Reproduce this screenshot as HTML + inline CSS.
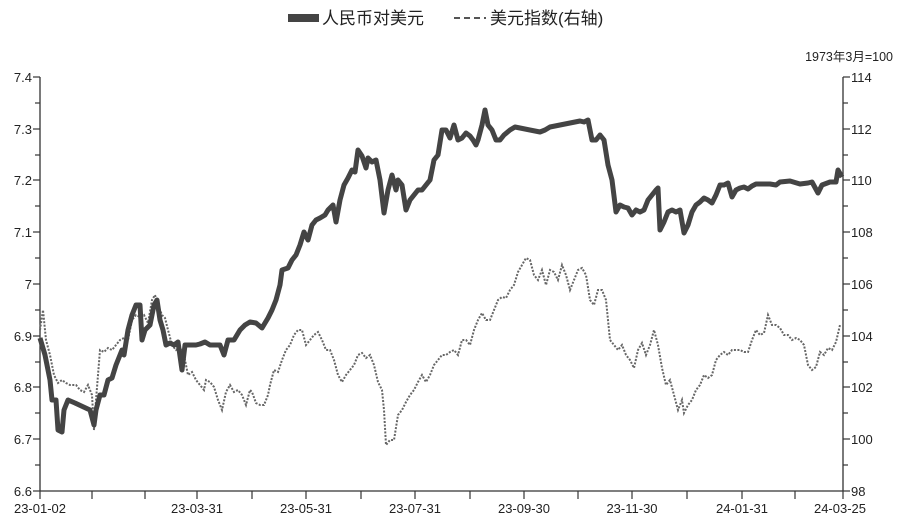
<!DOCTYPE html>
<html><head><meta charset="utf-8"><style>
body{margin:0;background:#fff;}
svg text{font-family:"Liberation Sans","Noto Sans CJK SC",sans-serif;fill:#222;}
</style></head><body>
<svg width="900" height="524" viewBox="0 0 900 524" xmlns="http://www.w3.org/2000/svg">
<rect width="900" height="524" fill="#fff"/>
<!-- legend -->
<rect x="288" y="14" width="31" height="8" fill="#444"/>
<text x="322" y="24" font-size="17">人民币对美元</text>
<line x1="454" y1="18" x2="486" y2="18" stroke="#555" stroke-width="2" stroke-dasharray="6,4"/>
<text x="490" y="24" font-size="17">美元指数(右轴)</text>
<text x="893" y="61" font-size="12.5" text-anchor="end">1973年3月=100</text>
<!-- axes -->
<g stroke="#333" stroke-width="1.3" fill="none">
<line x1="40" y1="77" x2="40" y2="491"/>
<line x1="40" y1="491" x2="843" y2="491"/>
<line x1="843" y1="77" x2="843" y2="491"/>
</g>
<g stroke="#333" stroke-width="1.2">
<line x1="33" y1="77" x2="40" y2="77"/><line x1="35" y1="103" x2="40" y2="103"/>
<line x1="33" y1="129" x2="40" y2="129"/><line x1="35" y1="155" x2="40" y2="155"/>
<line x1="33" y1="180" x2="40" y2="180"/><line x1="35" y1="206" x2="40" y2="206"/>
<line x1="33" y1="232" x2="40" y2="232"/><line x1="35" y1="258" x2="40" y2="258"/>
<line x1="33" y1="284" x2="40" y2="284"/><line x1="35" y1="310" x2="40" y2="310"/>
<line x1="33" y1="336" x2="40" y2="336"/><line x1="35" y1="362" x2="40" y2="362"/>
<line x1="33" y1="387" x2="40" y2="387"/><line x1="35" y1="413" x2="40" y2="413"/>
<line x1="33" y1="439" x2="40" y2="439"/><line x1="35" y1="465" x2="40" y2="465"/>
<line x1="33" y1="491" x2="40" y2="491"/>
<line x1="843" y1="77" x2="850" y2="77"/><line x1="843" y1="103" x2="848" y2="103"/>
<line x1="843" y1="129" x2="850" y2="129"/><line x1="843" y1="155" x2="848" y2="155"/>
<line x1="843" y1="180" x2="850" y2="180"/><line x1="843" y1="206" x2="848" y2="206"/>
<line x1="843" y1="232" x2="850" y2="232"/><line x1="843" y1="258" x2="848" y2="258"/>
<line x1="843" y1="284" x2="850" y2="284"/><line x1="843" y1="310" x2="848" y2="310"/>
<line x1="843" y1="336" x2="850" y2="336"/><line x1="843" y1="362" x2="848" y2="362"/>
<line x1="843" y1="387" x2="850" y2="387"/><line x1="843" y1="413" x2="848" y2="413"/>
<line x1="843" y1="439" x2="850" y2="439"/><line x1="843" y1="465" x2="848" y2="465"/>
<line x1="843" y1="491" x2="850" y2="491"/>
<line x1="40" y1="491" x2="40" y2="499"/><line x1="92" y1="491" x2="92" y2="499"/>
<line x1="145" y1="491" x2="145" y2="499"/><line x1="197" y1="491" x2="197" y2="499"/>
<line x1="252" y1="491" x2="252" y2="499"/><line x1="306" y1="491" x2="306" y2="499"/>
<line x1="361" y1="491" x2="361" y2="499"/><line x1="415" y1="491" x2="415" y2="499"/>
<line x1="470" y1="491" x2="470" y2="499"/><line x1="524" y1="491" x2="524" y2="499"/>
<line x1="578" y1="491" x2="578" y2="499"/><line x1="632" y1="491" x2="632" y2="499"/>
<line x1="687" y1="491" x2="687" y2="499"/><line x1="742" y1="491" x2="742" y2="499"/>
<line x1="795" y1="491" x2="795" y2="499"/><line x1="843" y1="491" x2="843" y2="499"/>
</g>
<g font-size="13" text-anchor="end">
<text x="32" y="82">7.4</text><text x="32" y="134">7.3</text><text x="32" y="185">7.2</text>
<text x="32" y="237">7.1</text><text x="32" y="289">7</text><text x="32" y="341">6.9</text>
<text x="32" y="392">6.8</text><text x="32" y="444">6.7</text><text x="32" y="496">6.6</text>
</g>
<g font-size="13">
<text x="851" y="82">114</text><text x="851" y="134">112</text><text x="851" y="185">110</text>
<text x="851" y="237">108</text><text x="851" y="289">106</text><text x="851" y="341">104</text>
<text x="851" y="392">102</text><text x="851" y="444">100</text><text x="851" y="496">98</text>
</g>
<g font-size="13" text-anchor="middle">
<text x="40" y="513">23-01-02</text><text x="197" y="513">23-03-31</text>
<text x="306" y="513">23-05-31</text><text x="415" y="513">23-07-31</text>
<text x="524" y="513">23-09-30</text><text x="632" y="513">23-11-30</text>
<text x="742" y="513">24-01-31</text><text x="840" y="513">24-03-25</text>
</g>
<!-- DXY dotted -->
<polyline fill="none" stroke="#666" stroke-width="2" stroke-dasharray="2,1.5" points="40,330 43,310 46,340 50,355 54,375 58,383 62,380 66,383 70,385 76,385 80,390 84,392 88,385 92,395 94,430 96,400 100,350 104,352 108,348 112,350 116,345 120,340 124,338 128,340 132,320 136,315 140,317 144,315 148,323 152,300 155,295 158,305 162,315 165,318 168,330 172,345 176,350 180,347 185,360 188,375 192,372 196,380 200,385 204,390 206,380 210,382 214,387 218,400 222,410 226,392 230,385 234,392 238,390 242,395 246,405 250,390 252,392 256,403 260,405 264,405 268,395 270,385 274,370 278,372 282,360 286,350 290,345 294,335 298,330 302,330 306,345 310,340 314,335 318,332 322,340 326,350 330,350 334,360 338,375 342,382 346,375 350,370 354,365 358,355 362,353 366,358 370,355 374,365 378,382 382,390 384,410 386,445 390,440 394,440 398,415 402,410 406,402 410,395 414,390 418,382 422,375 426,382 430,375 434,365 438,360 442,355 446,355 450,352 454,350 458,355 462,340 466,340 470,345 474,330 478,320 482,313 486,320 490,320 494,310 498,300 502,297 506,298 510,290 514,285 518,272 522,265 526,258 530,260 534,275 538,280 542,270 546,285 550,270 554,272 558,280 562,265 566,275 570,290 574,280 578,270 582,268 586,275 590,300 594,305 598,290 602,290 606,300 610,340 614,345 618,350 622,345 626,355 630,360 634,368 638,350 642,343 646,355 650,345 654,330 658,345 662,368 666,385 670,380 674,395 678,410 682,400 684,413 688,405 692,400 696,390 700,385 704,375 708,378 712,375 716,360 720,355 724,352 728,355 732,350 736,350 740,350 744,352 748,352 752,340 756,330 760,335 764,333 768,315 772,325 776,325 780,328 784,335 788,335 792,340 796,338 800,340 804,345 808,365 812,370 816,367 820,352 824,355 828,348 832,350 836,342 840,325"/>
<!-- RMB thick -->
<polyline fill="none" stroke="#444" stroke-width="5" stroke-linejoin="round" points="40,338 45,355 50,380 52,400 56,400 58,430 62,432 64,410 68,400 75,403 90,410 94,425 96,410 100,395 104,395 108,380 112,378 116,365 118,360 122,350 124,355 128,330 132,315 136,305 140,305 142,340 145,330 150,325 154,305 157,300 160,320 163,330 166,345 170,343 174,345 178,342 182,370 185,345 190,345 196,345 200,344 205,342 210,345 216,345 220,345 224,355 228,340 234,340 240,330 245,325 250,322 256,323 262,328 268,318 272,310 276,300 280,285 282,270 288,268 292,260 296,255 300,245 304,232 308,240 312,225 316,220 320,218 325,215 328,210 333,205 336,222 340,200 344,185 348,178 352,170 355,172 358,150 362,156 366,168 368,158 372,162 376,160 380,180 384,213 388,190 392,175 396,190 398,180 402,185 406,210 410,200 414,195 418,190 422,190 426,185 430,180 434,160 438,155 442,130 446,130 450,138 454,125 458,140 462,138 466,133 470,136 473,140 476,145 478,140 482,125 485,110 488,125 492,130 496,140 500,140 504,135 510,130 515,127 520,128 540,132 545,130 550,127 560,125 570,123 575,122 580,121 584,122 588,120 592,140 596,140 600,135 604,140 608,165 612,180 616,212 620,205 624,207 628,208 632,215 636,210 640,212 644,210 648,200 652,195 656,190 658,188 660,230 664,222 668,212 672,210 676,212 680,210 684,233 688,225 692,212 696,205 700,202 704,198 708,200 712,203 716,195 720,185 724,185 728,183 732,197 736,190 740,188 744,187 748,189 752,186 756,184 770,184 776,185 780,182 790,181 800,184 808,183 812,182 818,193 822,185 830,182 836,182 838,170 842,177"/>
</svg>
</body></html>
